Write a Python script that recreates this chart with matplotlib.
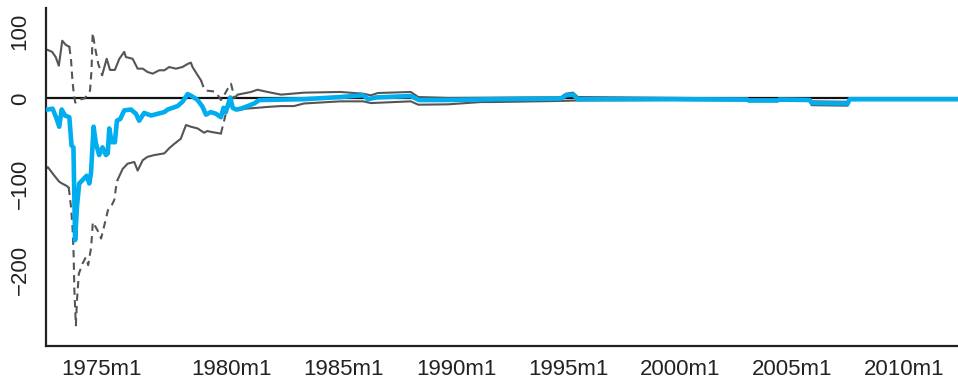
import numpy as np
import matplotlib
matplotlib.use("Agg")
import matplotlib.pyplot as plt
import matplotlib.transforms as mtransforms

# x values are Stata-style monthly dates: months since 1960m1 (1980m1 = 240)
blue_x = [140.4, 141.4, 143.9, 145.8, 147.5, 148.8, 150.6, 152.9, 154.1, 155.1, 156.0, 157.0, 158.2,
          160.0, 162.2, 163.6, 164.5, 165.9, 167.1, 168.9, 170.7, 172.5, 173.5, 174.3, 175.6, 177.3,
          178.4, 180.2, 182.3, 185.9, 188.6, 190.3, 193.0, 196.7, 200.2, 203.8, 205.6, 208.3, 210.9,
          213.5, 216.3, 218.9, 221.6, 224.3, 226.1, 228.7, 231.5, 234.1, 235.5, 236.7, 239.1, 240.4,
          242.1, 244.8, 248.5, 251.9, 254.7, 278.6, 298.1, 310.3, 312.9, 317.1, 335.8, 340.1, 355.7,
          380.3, 416.2, 418.9, 422.7, 425.3, 476.2, 515.9, 516.9, 532.2, 533.2, 549.5, 550.5, 569.8,
          570.9, 628.9]
blue_y = [-13, -13, -12, -22, -33, -13, -20, -22, -55, -57, -165, -126, -99,
          -95, -90, -99, -87, -33, -52, -66, -57, -66, -64, -35, -51, -51,
          -26, -24, -14, -13, -18, -26, -17, -20, -18, -16, -13, -11, -9,
          -4, 5, 2, -2, -10, -19, -16, -18, -22, -11, -16, 1, -11,
          -13, -12, -9, -6, -2, -1, 1.5, 3.5, -1, 1, 2.7, -2, -2,
          -1, -0.3, 3.5, 4.3, -1, -1, -1.5, -2.5, -2.5, -1.5, -2, -5.5, -6,
          -1, -1]

# upper band, solid pieces and dashed pieces
up_solid1_x = [140.4, 141.6, 143.7, 145.6, 147.3, 149.1, 151.1, 152.9]
up_solid1_y = [57, 56, 54, 48, 38, 67, 62, 60]
up_dash1_x = [152.9, 153.8, 154.6, 155.4, 156.1, 157.7, 161.2, 164.0, 164.8, 165.4, 166.6, 167.5,
              168.4, 170.5]
up_dash1_y = [60, 45, 20, 3, -5, -2, 0, 9, 33, 76, 60, 50, 40, 27]
up_solid2_x = [170.5, 172.9, 174.7, 177.3, 179.7, 182.3, 183.2, 186.8, 189.5, 192.2, 194.8, 197.6,
               201.0, 203.8, 206.4, 210.0, 213.5, 216.3, 218.0, 218.9, 221.6, 223.4]
up_solid2_y = [27, 46, 33, 33, 46, 54, 48, 46, 34.5, 34.5, 30.6, 28.7,
               32.6, 32.6, 36.4, 34.5, 36.4, 40, 41.5, 36.4, 27, 21]
up_dash2_x = [223.4, 225.1, 226.1, 230.5, 233.2, 234.1, 235.8, 237.7, 239.5, 240.4, 241.2, 243.1]
up_dash2_y = [21, 11, 9, 8, 1.5, -2, 3.5, 11, 17, 9, 0, 4.3]
up_solid3_x = [243.1, 250.2, 253.7, 259.1, 266.3, 278.6, 298.1, 310.3, 314.4, 318.2, 335.8, 339.8,
               355.7, 416.2, 418.9, 422.7, 425.3, 476.2, 515.9, 516.9, 532.2, 533.2, 549.5, 550.5,
               569.8, 570.9, 628.9]
up_solid3_y = [4.3, 7.4, 10, 7.4, 4.3, 6.6, 7.4, 5.4, 3.5, 6.2, 7.4, 1.5,
               0.4, 1.2, 5.4, 6.6, 1.5, 0.5, 0, -1, -1, 0, -0.5, -3.5,
               -4, 0, 0]

# lower band
lo_solid1_x = [140.4, 141.4, 144.9, 147.5, 149.0, 151.6, 152.6]
lo_solid1_y = [-82, -80, -90, -97, -99, -102, -104]
lo_dash1_x = [152.6, 153.8, 154.6, 155.2, 155.6, 156.4, 157.0, 158.0, 160.0, 161.7, 163.0, 164.6,
              165.5, 167.1, 168.9, 169.9, 171.4, 173.6, 175.5, 177.0, 177.8, 178.7]
lo_dash1_y = [-104, -126, -150, -181, -223, -264, -235, -204, -192, -185, -194, -173,
              -144, -150, -157, -163, -150, -130, -125, -118, -105, -95]
lo_solid2_x = [178.7, 181.5, 184.1, 187.7, 189.5, 192.2, 194.8, 198.4, 203.8, 206.4, 209.1, 212.6,
               215.4, 218.0, 221.6, 225.1, 226.9, 228.7, 234.1]
lo_solid2_y = [-95, -82, -76, -74, -84, -72, -68, -66, -64, -58, -53, -47,
               -31, -33, -35, -40, -38, -39, -41]
lo_dash2_x = [234.1, 235.0, 236.7, 238.6, 239.5, 240.4]
lo_dash2_y = [-41, -33, -18, -8, -5, -12]
lo_solid3_x = [240.4, 243.1, 247.5, 253.7, 259.1, 266.3, 273.2, 278.6, 298.1, 310.3, 314.4, 335.8,
               339.8, 355.7, 373.4, 380.3, 416.2, 425.3, 476.2, 515.9, 516.9, 532.2, 533.2, 549.5,
               550.5, 569.8, 570.9, 628.9]
lo_solid3_y = [-12, -14, -12, -11, -10, -9, -9, -6, -3.5, -3.5, -5.5, -3.5,
               -7.4, -7, -4.3, -4.3, -3, -2.5, -2, -2.5, -3.5, -3.5, -2.5, -3,
               -8, -8.5, -2, -2]

tick_years = [1975, 1980, 1985, 1990, 1995, 2000, 2005, 2010]
y_ticks = [100, 0, -100, -200]

plt.rcParams['font.family'] = ['Liberation Sans', 'DejaVu Sans']

fig = plt.figure(figsize=(9.58, 3.86), dpi=100)
ax = fig.add_axes([0.048, 0.1036, 0.952, 0.8756])

gray = '#555555'
ax.axhline(0, color='#111111', lw=1.6, zorder=1)
for xs, ys in [(up_solid1_x, up_solid1_y), (up_solid2_x, up_solid2_y), (up_solid3_x, up_solid3_y),
               (lo_solid1_x, lo_solid1_y), (lo_solid2_x, lo_solid2_y), (lo_solid3_x, lo_solid3_y)]:
    ax.plot(xs, ys, color=gray, lw=1.5, zorder=2)
for xs, ys in [(up_dash1_x, up_dash1_y), (up_dash2_x, up_dash2_y),
               (lo_dash1_x, lo_dash1_y), (lo_dash2_x, lo_dash2_y)]:
    ax.plot(xs, ys, color=gray, lw=1.5, ls=(0, (3.5, 2.5)), zorder=2)
ax.plot(blue_x, blue_y, color='#00AEEF', lw=3.3, zorder=3, solid_joinstyle='round')

ax.set_xlim(140.4, 628.9)
ax.set_ylim(-288, 105)
ax.set_xticks([(y - 1960) * 12 for y in tick_years])
ax.set_xticklabels([f'{y}m1' for y in tick_years])
ax.set_yticks(y_ticks)
ax.set_yticklabels([f'{v}'.replace('-', '\u2212') for v in y_ticks], rotation=90, va='center')
ax.tick_params(axis='both', length=0, labelsize=16, colors='#222222')
ax.tick_params(axis='x', pad=9)
ax.tick_params(axis='y', pad=11)
for s in ['top', 'right']:
    ax.spines[s].set_visible(False)
for s in ['left', 'bottom']:
    ax.spines[s].set_color('#222222')
    ax.spines[s].set_linewidth(1.6)

# top label would run off the figure, so hang it below its tick
ax.get_yticklabels()[0].set_va('top')
# first x label sits a bit left of its tick in the original (set after tick_params, which resets transforms)
lab0 = ax.get_xticklabels()[0]
lab0.set_transform(lab0.get_transform() + mtransforms.ScaledTranslation(-0.18, 0, fig.dpi_scale_trans))

fig.savefig('out.png', dpi=100)
